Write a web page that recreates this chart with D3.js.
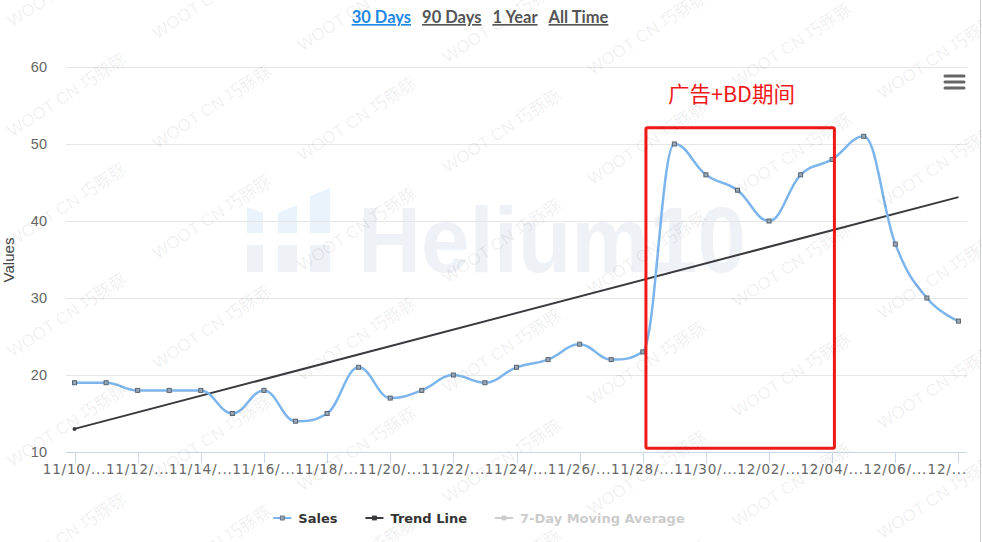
<!DOCTYPE html>
<html>
<head>
<meta charset="utf-8">
<script src="https://cdn.jsdelivr.net/npm/d3@7"></script>
<style>
body { margin: 0; background: #fff; }
svg { display: block; }
</style>
</head>
<body>
<script>
// ---- data ----
var categories = ["11/10","11/11","11/12","11/13","11/14","11/15","11/16","11/17","11/18","11/19",
  "11/20","11/21","11/22","11/23","11/24","11/25","11/26","11/27","11/28","11/29","11/30",
  "12/01","12/02","12/03","12/04","12/05","12/06","12/07","12/08"];
var sales = [19,19,18,18,18,15,18,14,15,21,17,18,20,19,21,22,24,22,23,50,46,44,40,46,48,51,37,30,27];
var trendEnds = [13, 43.1];          // trend line value at first / last day
var yTicks = [10,20,30,40,50,60];
var xTickIdx = [0,2,4,6,8,10,12,14,16,18,20,22,24,26,28];
var xTickLabels = ["11/10/...","11/12/...","11/14/...","11/16/...","11/18/...","11/20/...","11/22/...",
  "11/24/...","11/26/...","11/28/...","11/30/...","12/02/...","12/04/...","12/06/...","12/..."];
var ranges = ["30 Days","90 Days","1 Year","All Time"];
var legendItems = ["Sales","Trend Line","7-Day Moving Average"];
var boxIdx = [18.1, 24.07], boxVal = [10.5, 52.1];   // highlighted period
var noteText = "广告+BD期间", noteIdx = 18.8, noteVal = 55.4;
var watermark = "WOOT CN 巧豚豚";

var W = 982, H = 542;
var svg = d3.select("body").append("svg").attr("width", W).attr("height", H);

var x = d3.scaleLinear().domain([-0.27, 28.27]).range([66, 967]);
var y = d3.scaleLinear().domain([10, 60]).range([452, 67]);

// right frame edge
svg.append("line").attr("x1", 980.5).attr("x2", 980.5).attr("y1", 0).attr("y2", H)
  .attr("stroke", "#cfcfcf").attr("stroke-width", 1);

// Helium10 background logo
var logo = svg.append("g");
logo.append("path").attr("d", "M247,207 L263,213 L263,233 L247,233 Z").attr("fill", "#eaf3fc");
logo.append("path").attr("d", "M278,213 L297,205 L297,233 L278,233 Z").attr("fill", "#eaf3fc");
logo.append("path").attr("d", "M310,196 L330,188 L330,233 L310,233 Z").attr("fill", "#eaf3fc");
logo.append("rect").attr("x", 247).attr("y", 245).attr("width", 16).attr("height", 27).attr("fill", "#eef1f6");
logo.append("rect").attr("x", 278).attr("y", 245).attr("width", 19).attr("height", 27).attr("fill", "#eef1f6");
logo.append("rect").attr("x", 310).attr("y", 245).attr("width", 20).attr("height", 27).attr("fill", "#eef1f6");
logo.append("text").attr("x", 358).attr("y", 272).text("Helium10")
  .attr("font-family", "Liberation Sans, Arial, sans-serif").attr("font-size", 92).attr("font-weight", 700)
  .attr("textLength", 388).attr("lengthAdjust", "spacingAndGlyphs")
  .attr("fill", "#eef1f6");

// grid
svg.append("g").selectAll("line").data(yTicks.filter(function(d){ return d > 10; })).enter().append("line")
  .attr("x1", 66).attr("x2", 967)
  .attr("y1", function(d){ return Math.round(y(d)) + 0.5; })
  .attr("y2", function(d){ return Math.round(y(d)) + 0.5; })
  .attr("stroke", "#e6e6e6");

// y axis labels
svg.append("g").selectAll("text").data(yTicks).enter().append("text")
  .attr("x", 47).attr("y", function(d){ return y(d) + 5; })
  .attr("text-anchor", "end")
  .attr("font-family", "Liberation Sans, Arial, sans-serif").attr("font-size", 14.5)
  .attr("fill", "#666").text(function(d){ return d; });

svg.append("text").attr("transform", "translate(14,260) rotate(-90)")
  .attr("text-anchor", "middle")
  .attr("font-family", "Liberation Sans, Arial, sans-serif").attr("font-size", 15)
  .attr("fill", "#444").text("Values");

// x axis
svg.append("line").attr("x1", 66).attr("x2", 967).attr("y1", 452.5).attr("y2", 452.5)
  .attr("stroke", "#ccd6eb");
svg.append("g").selectAll("line").data(xTickIdx).enter().append("line")
  .attr("x1", function(d){ return Math.round(x(d)) + 0.5; })
  .attr("x2", function(d){ return Math.round(x(d)) + 0.5; })
  .attr("y1", 452).attr("y2", 463).attr("stroke", "#ccd6eb");
var lastTick = xTickIdx.length - 1;
svg.append("g").selectAll("text").data(xTickIdx).enter().append("text")
  .attr("x", function(d, i){ return i === lastTick ? 967 : x(d); }).attr("y", 474)
  .attr("text-anchor", function(d, i){ return i === lastTick ? "end" : "middle"; })
  .attr("font-family", "DejaVu Sans, Verdana, sans-serif").attr("font-size", 13.5)
  .attr("letter-spacing", 0.8)
  .attr("fill", "#666").text(function(d, i){ return xTickLabels[i]; });

// Highcharts-like spline
function hcSpline(context) {
  var pts;
  return {
    areaStart: function(){}, areaEnd: function(){},
    lineStart: function(){ pts = []; },
    point: function(px, py){ pts.push([px, py]); },
    lineEnd: function(){
      var n = pts.length, sm = 1.5, den = sm + 1, rc = [];
      if (!n) return;
      context.moveTo(pts[0][0], pts[0][1]);
      for (var i = 1; i < n; i++) {
        var p = pts[i], l = pts[i - 1], nx = pts[i + 1];
        var lcx = p[0], lcy = p[1];
        if (nx) {
          lcx = (sm * p[0] + l[0]) / den; lcy = (sm * p[1] + l[1]) / den;
          var rcx = (sm * p[0] + nx[0]) / den, rcy = (sm * p[1] + nx[1]) / den;
          var corr = (rcy - lcy) * (rcx - p[0]) / (rcx - lcx) + p[1] - rcy;
          lcy += corr; rcy += corr;
          if (lcy > l[1] && lcy > p[1]) { lcy = Math.max(l[1], p[1]); rcy = 2 * p[1] - lcy; }
          else if (lcy < l[1] && lcy < p[1]) { lcy = Math.min(l[1], p[1]); rcy = 2 * p[1] - lcy; }
          if (rcy > nx[1] && rcy > p[1]) { rcy = Math.max(nx[1], p[1]); lcy = 2 * p[1] - rcy; }
          else if (rcy < nx[1] && rcy < p[1]) { rcy = Math.min(nx[1], p[1]); lcy = 2 * p[1] - rcy; }
          rc[i] = [rcx, rcy];
        }
        var a = rc[i - 1] || l;
        context.bezierCurveTo(a[0], a[1], lcx, lcy, p[0], p[1]);
      }
    }
  };
}

// trend line
var trendData = [[0, trendEnds[0]], [categories.length - 1, trendEnds[1]]];
svg.append("path").datum(trendData)
  .attr("d", d3.line().x(function(d){ return x(d[0]); }).y(function(d){ return y(d[1]); }))
  .attr("fill", "none").attr("stroke", "#3a3a3e").attr("stroke-width", 2);
svg.append("circle").datum(trendData[0])
  .attr("cx", function(d){ return x(d[0]); }).attr("cy", function(d){ return y(d[1]); })
  .attr("r", 2).attr("fill", "#3a3a3e");

// sales line
svg.append("path").datum(sales)
  .attr("d", d3.line().x(function(d, i){ return x(i); }).y(function(d){ return y(d); }).curve(hcSpline))
  .attr("fill", "none").attr("stroke", "#7cb5ec").attr("stroke-width", 2.5);
svg.append("g").selectAll("rect").data(sales).enter().append("rect")
  .attr("x", function(d, i){ return x(i) - 2; }).attr("y", function(d){ return y(d) - 2; })
  .attr("width", 4).attr("height", 4)
  .attr("fill", "#9aa9b8").attr("stroke", "#5a6470").attr("stroke-width", 1);

// highlighted period
svg.append("rect")
  .attr("x", x(boxIdx[0])).attr("y", y(boxVal[1]))
  .attr("width", x(boxIdx[1]) - x(boxIdx[0])).attr("height", y(boxVal[0]) - y(boxVal[1]))
  .attr("rx", 1.5)
  .attr("fill", "none").attr("stroke", "#f01818").attr("stroke-width", 3);
svg.append("text").attr("x", x(noteIdx)).attr("y", y(noteVal))
  .attr("font-family", "Noto Sans CJK SC, sans-serif").attr("font-size", 21.5)
  .attr("fill", "#f01818").text(noteText);

// hamburger
svg.append("g").selectAll("line").data([76, 82, 88]).enter().append("line")
  .attr("x1", 945).attr("x2", 964).attr("y1", function(d){ return d; }).attr("y2", function(d){ return d; })
  .attr("stroke", "#666").attr("stroke-width", 3).attr("stroke-linecap", "round");

// range buttons
var rg = svg.append("g");
var rt = rg.selectAll("text").data(ranges).enter().append("text")
  .attr("y", 23)
  .attr("font-family", "Lato, sans-serif").attr("font-weight", 700).attr("font-size", 16.5)
  .attr("text-decoration", "underline")
  .attr("fill", function(d, i){ return i === 0 ? "#1e88e5" : "#555"; })
  .text(function(d){ return d; });
var widths = [], total = 0;
rt.each(function(){ var w = this.getComputedTextLength(); widths.push(w); total += w; });
total += 11 * (ranges.length - 1);
var cx = 480 - total / 2;
rt.attr("x", function(d, i){ var v = cx; cx += widths[i] + 11; return v; });

// legend
var legColors = ["#7cb5ec", "#3a3a3e", "#cccccc"];
var legText = ["#333", "#333", "#cccccc"];
var lg = svg.append("g");
var items = lg.selectAll("g").data(legendItems).enter().append("g");
items.append("line").attr("x1", 0).attr("x2", 18).attr("y1", 518).attr("y2", 518)
  .attr("stroke", function(d, i){ return legColors[i]; }).attr("stroke-width", 2);
items.append("rect").attr("x", 7).attr("y", 516).attr("width", 4).attr("height", 4)
  .attr("fill", function(d, i){ return i === 0 ? "#9aa9b8" : legColors[i]; })
  .attr("stroke", function(d, i){ return i === 0 ? "#5a6470" : legColors[i]; }).attr("stroke-width", 0.8);
var lt = items.append("text").attr("x", 25).attr("y", 523)
  .attr("font-family", "DejaVu Sans, Verdana, sans-serif").attr("font-weight", 700).attr("font-size", 13)
  .attr("fill", function(d, i){ return legText[i]; }).text(function(d){ return d; });
var lw = [], ltot = 0;
lt.each(function(){ var w = this.getComputedTextLength() + 25; lw.push(w); ltot += w; });
ltot += 28 * (legendItems.length - 1);
var lx = 479 - ltot / 2;
items.attr("transform", function(d, i){ var v = lx; lx += lw[i] + 28; return "translate(" + v + ",0)"; });

// watermark overlay
var wm = [];
for (var r = -1; r < 6; r++) {
  for (var c = 0; c < 8; c++) {
    wm.push([70 + c * 145, 100 + r * 110 + c * 12]);
  }
}
svg.append("g").selectAll("text").data(wm).enter().append("text")
  .attr("transform", function(d){ return "translate(" + d[0] + "," + d[1] + ") rotate(-33)"; })
  .attr("text-anchor", "middle")
  .attr("font-family", "Liberation Sans, Noto Sans CJK SC, sans-serif").attr("font-size", 17)
  .attr("fill", "#000").attr("fill-opacity", 0.07).text(watermark);
</script>
</body>
</html>
